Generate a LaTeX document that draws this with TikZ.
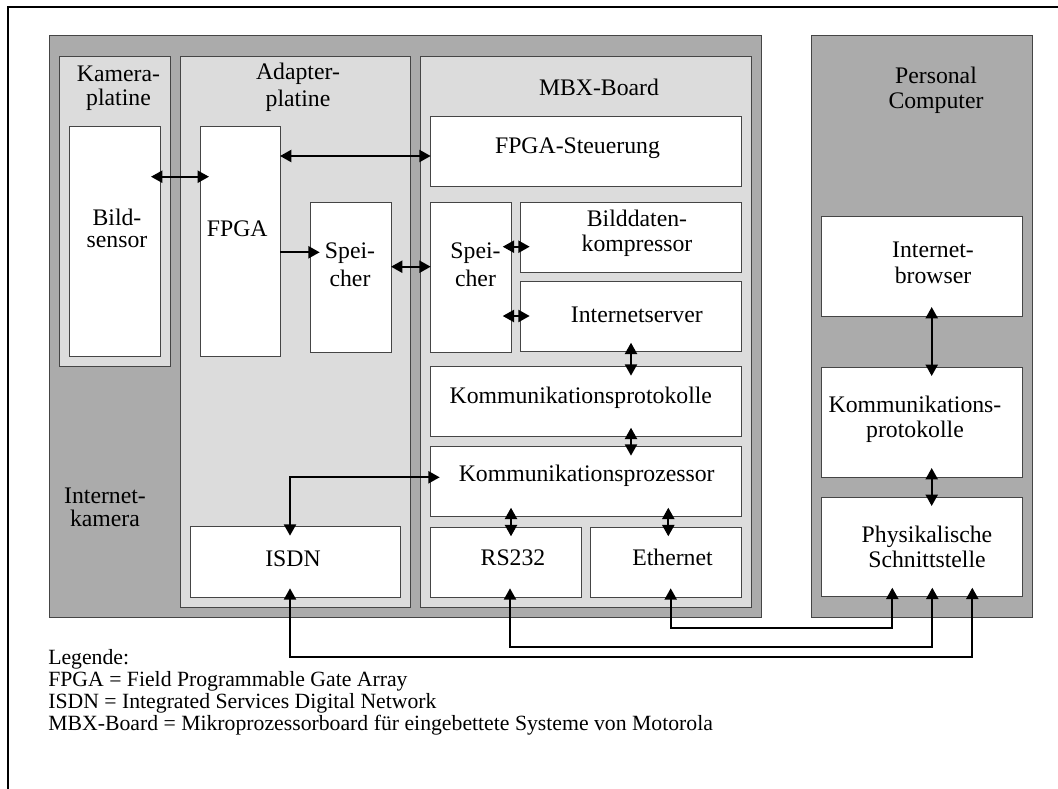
\documentclass[tikz,border=0pt]{standalone}
\usepackage{fontspec}
\setmainfont{Liberation Serif}
\usetikzlibrary{arrows.meta,fit}
\definecolor{darkfill}{HTML}{ABABAB}
\definecolor{lightfill}{HTML}{DCDCDC}
\definecolor{edgegray}{HTML}{454545}
\begin{document}
\begin{tikzpicture}[x=0.75pt,y=-0.75pt,
  boxframe/.style={draw=edgegray, line width=0.75pt, inner sep=0pt, outer sep=0pt},
  outerbox/.style={boxframe, fill=darkfill},
  board/.style={boxframe, fill=lightfill},
  unit/.style={boxframe, fill=white},
  txt/.style={anchor=base, inner sep=0pt, font=\fontsize{17.8}{20}\selectfont},
  legendtxt/.style={anchor=base west, inner sep=0pt, font=\fontsize{16.3}{18}\selectfont},
  tip/.tip={Triangle[length=8.5pt,width=9pt]},
  oneway/.style={line width=1.6pt, -tip},
  twoway/.style={line width=1.6pt, tip-tip},
  inA/.style={shorten <=-6.75pt},
  inB/.style={shorten >=-6.75pt}]
\useasboundingbox (0,0) rectangle (1058,789);

% page frame (top and left edges)
\draw[line width=1.5pt] (8.3,800) -- (8.3,6.7) -- (1070,6.7);

% ---------- Internetkamera ----------
\node[outerbox, fit={(49.3,35.7) (761.7,617.3)}] (cam) {};
\node[board, fit={(59.3,56) (170,366.7)}] (kplat) {};
\node[board, fit={(180,56) (410.7,607.3)}] (aplat) {};
\node[board, fit={(420.7,56) (751.7,607.3)}] (mbx) {};

\node[unit, fit={(69.3,126) (160,356.7)}] (sensor) {};
\node[unit, fit={(200,126) (280,356.7)}] (fpga) {};
\node[unit, fit={(310.7,202.3) (391,352.7)}] (memA) {};
\node[unit, fit={(190,526.7) (400.7,597.3)}] (isdn) {};

\node[unit, fit={(430.7,116) (741.7,186)}] (fpgactl) {};
\node[unit, fit={(430.7,202.3) (511.7,352.7)}] (memM) {};
\node[unit, fit={(520.7,202.3) (741.7,272.3)}] (comp) {};
\node[unit, fit={(520.7,281.3) (741.7,351.7)}] (iserver) {};
\node[unit, fit={(430.7,366.7) (741.7,436.7)}] (kprot) {};
\node[unit, fit={(430.7,446.7) (741.7,516.7)}] (kproz) {};
\node[unit, fit={(430.7,527.3) (581,597.3)}] (rs) {};
\node[unit, fit={(590.7,527.3) (741.7,597.3)}] (eth) {};

% ---------- Personal Computer ----------
\node[outerbox, fit={(811.7,35) (1032,617.3)}] (pc) {};
\node[unit, fit={(821.7,216) (1022.3,316)}] (browser) {};
\node[unit, fit={(821.7,367) (1022.3,477)}] (pcprot) {};
\node[unit, fit={(821.7,497) (1022.3,596.7)}] (phys) {};

% ---------- labels ----------
\node[txt] (t1) at (118.5,81) {Kamera-};
\node[txt] (t2) at (118.5,105) {platine};
\node[txt] (t3) at (298,79) {Adapter-};
\node[txt] (t4) at (298,106) {platine};
\node[txt] (t5) at (599,95.7) {MBX-Board};
\node[txt] (t6) at (105,503.3) {Internet-};
\node[txt] (t7) at (105,526.7) {kamera};
\node[txt] (t8) at (936,83) {Personal};
\node[txt] (t9) at (936,108) {Computer};

\node[txt] (u1) at (117,225) {Bild-};
\node[txt] (u2) at (117,247.5) {sensor};
\node[txt] (u3) at (237.3,236) {FPGA};
\node[txt] (u4) at (350,258.3) {Spei-};
\node[txt] (u5) at (350,286.7) {cher};
\node[txt] (u6) at (293,566.7) {ISDN};
\node[txt] (u7) at (577.5,153.3) {FPGA-Steuerung};
\node[txt] (u8) at (475.5,258.3) {Spei-};
\node[txt] (u9) at (475.5,286.7) {cher};
\node[txt] (u10) at (637,226.7) {Bilddaten-};
\node[txt] (u11) at (637,251.7) {kompressor};
\node[txt] (u12) at (636.8,322.3) {Internetserver};
\node[txt] (u13) at (580.8,403.3) {Kommunikationsprotokolle};
\node[txt] (u14) at (586.7,481.7) {Kommunikationsprozessor};
\node[txt] (u15) at (513,565) {RS232};
\node[txt] (u16) at (672.5,565) {Ethernet};
\node[txt] (u17) at (933,257) {Internet-};
\node[txt] (u18) at (933,283) {browser};
\node[txt] (u19) at (915,412) {Kommunikations-};
\node[txt] (u20) at (915,437) {protokolle};
\node[txt] (u21) at (927,542) {Physikalische};
\node[txt] (u22) at (927,567) {Schnittstelle};

% ---------- connectors ----------
\draw[twoway, inA, inB] (sensor.east |- 0,176.7) -- (fpga.west |- 0,176.7);
\draw[twoway] (fpga.east |- 0,156) -- (fpgactl.west |- 0,156);
\draw[oneway, inB] (fpga.east |- 0,252.3) -- (memA.west |- 0,252.3);
\draw[twoway] (memA.east |- 0,266.7) -- (memM.west |- 0,266.7);
\draw[twoway, inA, inB] (memM.east |- 0,246.7) -- (comp.west |- 0,246.7);
\draw[twoway, inA, inB] (memM.east |- 0,316) -- (iserver.west |- 0,316);
\draw[twoway, inA, inB] (iserver.south -| 631,0) -- (kprot.north -| 631,0);
\draw[twoway, inA, inB] (kprot.south -| 631,0) -- (kproz.north -| 631,0);
\draw[twoway, inA, inB] (kproz.south -| 511,0) -- (rs.north -| 511,0);
\draw[twoway, inA, inB] (kproz.south -| 668.3,0) -- (eth.north -| 668.3,0);
\draw[twoway, inA, inB] (isdn.north -| 290,0) -- (290,477.3) -- (kproz.west |- 0,477.3);

\draw[twoway, inA, inB] (eth.south -| 670.7,0) -- (670.7,627.7) -- (892.3,627.7) -- (phys.south -| 892.3,0);
\draw[twoway, inA, inB] (rs.south -| 510,0) -- (510,647.3) -- (932.3,647.3) -- (phys.south -| 932.3,0);
\draw[twoway, inA, inB] (isdn.south -| 290,0) -- (290,657.3) -- (972.3,657.3) -- (phys.south -| 972.3,0);

\draw[twoway, inA, inB] (browser.south -| 931.7,0) -- (pcprot.north -| 931.7,0);
\draw[twoway, inA, inB] (pcprot.south -| 931.7,0) -- (phys.north -| 931.7,0);

% ---------- legend ----------
\node[legendtxt] (l1) at (48,664) {Legende:};
\node[legendtxt] (l2) at (48,686) {FPGA = Field Programmable Gate Array};
\node[legendtxt] (l3) at (48,708) {ISDN = Integrated Services Digital Network};
\node[legendtxt] (l4) at (48,730) {MBX-Board = Mikroprozessorboard für eingebettete Systeme von Motorola};
\end{tikzpicture}
\end{document}
